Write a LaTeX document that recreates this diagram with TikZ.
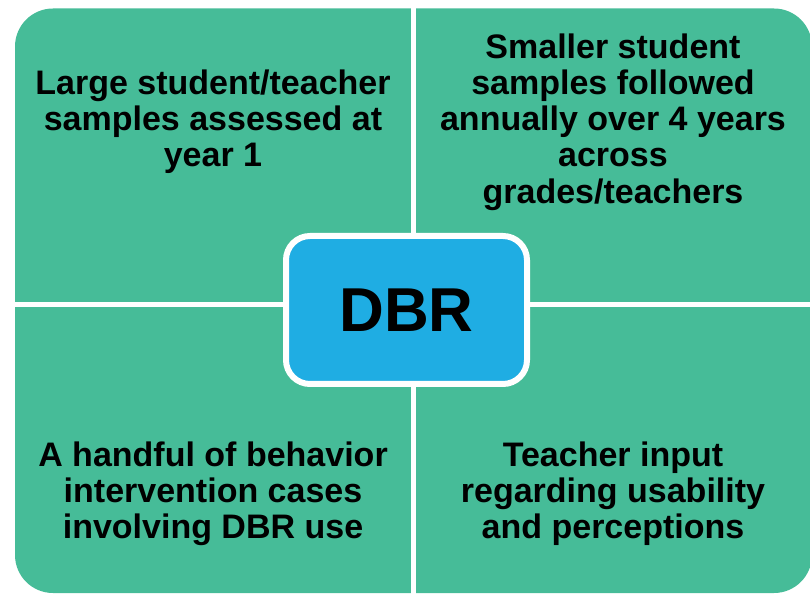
\documentclass[tikz,border=0pt]{standalone}
\usepackage{fontspec}
\setmainfont{Liberation Sans}
\definecolor{quadgreen}{HTML}{46BC98}
\definecolor{dbrblue}{HTML}{1FADE3}
\begin{document}
\begin{tikzpicture}[x=1pt,y=1pt,
  qtext/.style={align=center,font=\bfseries\fontsize{34}{36.2}\selectfont,text=black,inner sep=0pt},
  gapbar/.style={fill=white,draw=none}]
\useasboundingbox (0,0) rectangle (810,594);
% big rounded area
\fill[quadgreen,rounded corners=38pt] (15,1) rectangle (812,585.5);
% white gaps
\fill[gapbar] (411,0) rectangle (416,594);
\fill[gapbar] (0,287) rectangle (812,292);
% quadrant texts
\node[qtext] (tl) at (213,472) {Large student/teacher\\samples assessed at\\year 1};
\node[qtext] (tr) at (613,472) {Smaller student\\samples followed\\annually over 4 years\\across\\grades/teachers};
\node[qtext] (bl) at (213,100) {A handful of behavior\\intervention cases\\involving DBR use};
\node[qtext] (br) at (613,100) {Teacher input\\regarding usability\\and perceptions};
% central box
\node[draw=white,line width=6pt,fill=dbrblue,rounded corners=24pt,
      minimum width=241pt,minimum height=148pt,
      font=\bfseries\fontsize{62}{68}\selectfont] (dbr) at (406.5,284) {DBR};
\end{tikzpicture}
\end{document}
